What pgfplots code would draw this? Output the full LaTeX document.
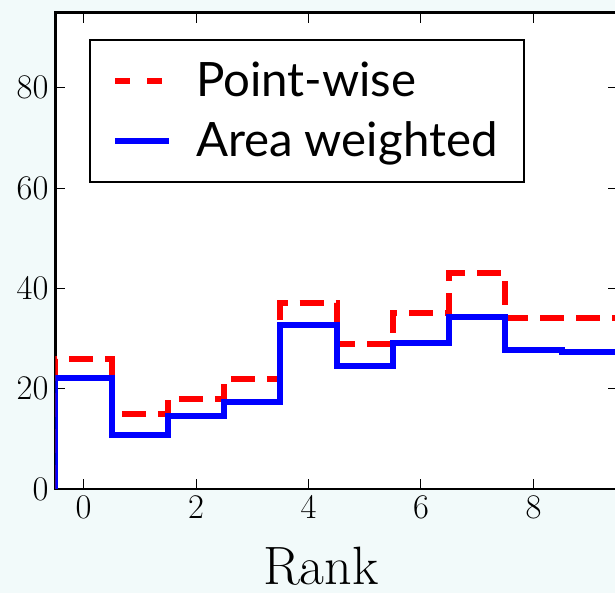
\documentclass[border=0pt]{standalone}
\usepackage{fontspec}
\usepackage{pgfplots}
\pgfplotsset{compat=1.18}
\newfontfamily\legendfont{Lato}
\definecolor{pagebg}{rgb}{0.949,0.980,0.980}

\begin{document}
\begin{tikzpicture}
% page background
\fill[pagebg] (-27.75pt,-52pt) rectangle (279.75pt,244.5pt);
\begin{axis}[
  at={(0pt,0pt)}, anchor=south west,
  scale only axis,
  width=281.15pt, height=238.25pt,
  xmin=-0.5, xmax=9.5,
  ymin=0, ymax=95,
  xtick={0,2,4,6,8},
  ytick={0,20,40,60,80},
  tick align=inside,
  xtick pos=both, ytick pos=both,
  major tick length=5pt,
  tick style={black, line width=0.5pt},
  axis line style={black, line width=1.2pt},
  axis background/.style={fill=white},
  ticklabel style={font=\fontsize{17.5}{20}\selectfont},
  xlabel={Rank},
  xlabel style={at={(axis description cs:0.472,0)}, anchor=base, yshift=-48pt,
                font=\fontsize{27}{30}\selectfont},
  legend style={at={(axis description cs:0.0596,0.944)}, anchor=north west,
                draw=black, line width=1pt, fill=white,
                font=\legendfont\fontsize{23.7}{27}\selectfont,
                inner xsep=11pt, inner ysep=9pt, row sep=7pt, column sep=10pt},
  legend cell align=left,
  legend image code/.code={\draw[#1] (0pt,0pt) -- (27pt,0pt);},
]
% histogram outlines: left bin edges with the bin heights
\addplot[red, line width=3pt, dash pattern=on 12pt off 6pt, const plot mark left,
         legend image post style={dash pattern=on 7.5pt off 8.5pt}]
  coordinates {
    (-0.5,0) (-0.5,26) (0.5,15) (1.5,18) (2.5,22) (3.5,37)
    (4.5,29) (5.5,35) (6.5,43) (7.5,34) (8.5,34) (9.5,34) (9.5,0)
  };
\addlegendentry{Point-wise}
\addplot[blue, line width=3pt, const plot mark left]
  coordinates {
    (-0.5,0) (-0.5,22.2) (0.5,10.8) (1.5,14.6) (2.5,17.4) (3.5,32.7)
    (4.5,24.5) (5.5,29.2) (6.5,34.2) (7.5,27.7) (8.5,27.4) (9.5,27.4) (9.5,0)
  };
\addlegendentry{Area weighted}
\end{axis}
\pgfresetboundingbox
\path (-27.75pt,-52pt) rectangle (279.75pt,244.5pt);
\end{tikzpicture}
\end{document}
